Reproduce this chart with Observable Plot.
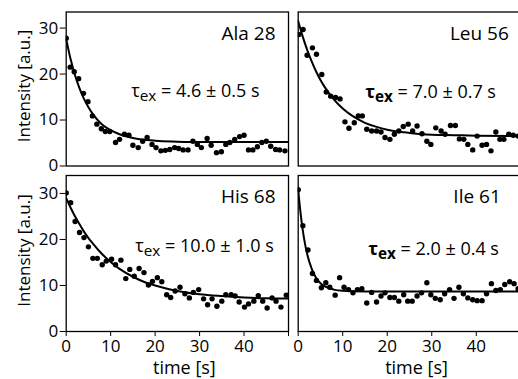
<!DOCTYPE html>
<html><head><meta charset="utf-8">
<script src="https://cdn.jsdelivr.net/npm/d3@7"></script>
<script src="https://cdn.jsdelivr.net/npm/@observablehq/plot@0.6"></script>
<style>
body{margin:0;background:#fff;overflow:hidden}
#chart{position:relative;width:518px;height:379px;font-family:"Open Sans",sans-serif}
#chart svg{position:absolute;left:0;top:0}
</style></head><body><div id="chart"></div>
<script>
// ---- data ----
const xTicks = [0, 10, 20, 30, 40, 50];
const yTicks = [0, 10, 20, 30];

const alaT = [0,0.9,1.8,2.8,3.9,4.9,5.9,6.9,7.9,8.8,9.8,11.1,12,13.1,14.1,15,16.2,17.2,18.2,19.3,20.2,21.3,22.3,23.3,24.4,25.3,26.3,27.4,28.5,29.5,30.4,31.7,32.6,33.8,34.9,35.9,36.8,37.9,39,40,41,42,43,44,45,46,47.1,48,49.2];
const alaI = [27.8,21.5,20.5,19,15.8,14,10.9,9.1,8.1,7.5,7.5,5.1,5.8,6.9,6.7,4.5,4.0,5.4,6.2,4.7,4.0,3.3,3.4,3.6,4.0,3.8,3.5,3.5,5.4,4.7,4.0,6.0,4.5,2.9,3.1,4.7,5.1,5.8,6.4,6.7,3.5,3.5,4.2,5.1,5.4,4.3,3.6,3.5,3.3];
const alaFitT = [0,1,2,3,4,5,6,8,10,12,15,20,25,30,40,50];
const alaFitI = [27.6,23.2,19.7,16.9,14.6,12.8,11.3,9.1,7.8,6.9,6.1,5.5,5.3,5.2,5.2,5.2];

const leuT = [0.15,1.1,2,3.2,4.1,5.3,6.3,7.3,8.4,9.4,10.5,11.4,12.6,13.5,14.4,15.4,16.5,17.6,18.6,19.5,20.6,21.6,22.6,23.6,24.7,25.7,26.7,27.8,28.9,29.8,30.9,32.1,33,34.2,35.3,36.2,37.2,38.1,39.2,40.2,41.3,42.3,43.3,44.4,45.3,46.2,47.3,48.3,49.4];
const leuI = [28.6,29.7,24.1,25.7,24.3,19.9,16.1,15.2,14.9,14.6,9.6,8.2,9.4,10.9,10.9,8.0,7.6,7.6,7.4,6.2,5.8,6.9,7.6,8.6,9.1,7.6,8.7,7.0,5.4,4.7,8.3,7.6,6.9,8.8,8.8,5.9,5.8,4.7,3.5,6.5,4.5,4.7,3.3,7.4,5.8,5.8,6.9,6.7,6.5];
const leuFitT = [0,1,2,3,4,5,6,8,10,12,15,18,20,25,30,35,40,50];
const leuFitI = [31.5,28.2,25.3,22.8,20.6,18.7,17.1,14.5,12.5,11.0,9.4,8.4,7.9,7.2,6.8,6.7,6.6,6.5];

const hisT = [0,1,2,3,4,5,6,7,8.1,9,10.2,11.1,12.3,13.4,14.3,15.3,16.4,17.5,18.5,19.4,20.5,21.5,22.6,23.5,24.5,25.6,26.7,27.7,28.6,29.8,30.9,31.8,32.8,33.9,35,35.9,37.1,38,38.9,40.1,41,42.2,43.2,44.2,45.2,46.3,47.2,48.3,49.5];
const hisI = [30.1,28,23.9,21.5,20.4,18.4,15.9,15.9,14.5,15.3,15.7,14.5,15.5,11.5,13.5,12,13.7,12.8,10.1,10.9,11.7,10.8,8.0,7.4,8.8,9.6,8.2,7.3,8.5,9.1,7.1,5.8,7.1,5.5,6.6,8.0,8.0,7.7,6.4,5.3,6.0,6.6,7.8,6.6,5.1,7.3,6.6,5.3,7.9];
const hisFitT = [0,1,2,3,4,5,6,8,10,12,15,18,20,25,30,35,40,45,50];
const hisFitI = [29,26.9,25,23.3,21.7,20.3,19.1,16.9,15.1,13.6,11.9,10.6,10.0,8.8,8.1,7.7,7.4,7.2,7.15];

const ileT = [0,1.05,2.2,3.2,4.1,5.2,6.2,7.1,8.3,9.3,10.3,11.3,12.3,13.3,14.3,15.4,16.5,17.6,18.6,19.5,20.6,21.6,22.6,23.7,24.6,25.6,26.7,27.7,28.9,29.8,30.8,31.9,32.9,34,35,36.1,37.1,38.1,39.2,40.2,41.3,42.3,43.4,44.4,45.4,46.4,47.5,48.5,49.4];
const ileI = [30.8,23,17.7,12.6,11.1,9.5,10.6,9.6,7.9,11.7,9.6,9.1,8.4,9.1,9.3,6.2,8.5,6.4,7.7,8.4,7.4,7.4,6.6,8.0,6.6,6.6,7.7,8.4,10.6,8.0,7.2,6.9,8.2,9.1,7.2,9.6,8.2,7.3,6.9,6.7,6.7,8.2,10.4,8.9,9.1,10.2,10.8,10.4,9.3];
const ileFitT = [0,0.5,1,1.5,2,3,4,5,6,8,10,15,20,30,40,50];
const ileFitI = [30.8,26,22.2,19.2,16.9,13.7,11.7,10.5,9.8,9.1,8.85,8.7,8.7,8.7,8.7,8.7];

const names = ["Ala 28", "Leu 56", "His 68", "Ile 61"];
const tauValues = ["4.6 ± 0.5 s", "7.0 ± 0.7 s", "10.0 ± 1.0 s", "2.0 ± 0.4 s"];
const yLabel = "Intensity [a.u.]";
const xLabel = "time [s]";

// ---- layout / style per panel ----
const panels = [
  {t: alaT, v: alaI, ft: alaFitT, fv: alaFitI, name: names[0], tau: tauValues[0], row: 0, col: 0, nameDx: -13, tauDx: 65, tauDy: 72.5, bold: false},
  {t: leuT, v: leuI, ft: leuFitT, fv: leuFitI, name: names[1], tau: tauValues[1], row: 0, col: 1, nameDx: -12, tauDx: 67, tauDy: 73.5, bold: true},
  {t: hisT, v: hisI, ft: hisFitT, fv: hisFitI, name: names[2], tau: tauValues[2], row: 1, col: 0, nameDx: -13, tauDx: 69, tauDy: 64, bold: false},
  {t: ileT, v: ileI, ft: ileFitT, fv: ileFitI, name: names[3], tau: tauValues[3], row: 1, col: 1, nameDx: -20, tauDx: 70, tauDy: 66.5, bold: true}
];

const W = 518, H = 379;
const chart = document.getElementById("chart");

for (const p of panels) {
  const pts = p.t.map((t, i) => ({t, v: p.v[i]}));
  const fit = p.ft.map((t, i) => ({t, v: p.fv[i]}));
  const left = p.col === 0, bottom = p.row === 1;
  const marks = [
    Plot.frame({stroke: "black", strokeWidth: 1.3}),
    Plot.line(fit, {x: "t", y: "v", stroke: "black", strokeWidth: 2, curve: "monotone-x", clip: true}),
    Plot.dot(pts, {x: "t", y: "v", r: 2.7, fill: "black", stroke: "none", clip: true}),
    Plot.text([p.name], {frameAnchor: "top-right", textAnchor: "end", lineAnchor: "top", dx: p.nameDx, dy: 14, fontSize: 19, fill: "black"}),
    Plot.text([p.tau], {frameAnchor: "top-left", textAnchor: "start", lineAnchor: "top", dx: p.tauDx, dy: p.tauDy, fontSize: 18, fill: "black", className: "tau" + (p.bold ? " taubold" : "")})
  ];
  if (left) marks.push(Plot.text([yLabel], {frameAnchor: "left", textAnchor: "middle", lineAnchor: "middle", rotate: -90, dx: -42, dy: -3, fontSize: 17, fill: "black"}));
  if (bottom) marks.push(Plot.text([xLabel], {frameAnchor: "bottom", textAnchor: "middle", lineAnchor: "top", dx: 7, dy: 30, fontSize: 18, fill: "black"}));
  const svg = Plot.plot({
    width: W, height: H,
    marginLeft: left ? 65.7 : 297.7,
    marginRight: left ? W - 288 : -2.3,
    marginTop: bottom ? 175 : 11.5,
    marginBottom: bottom ? H - 331 : H - 165.5,
    style: {background: "transparent", fontFamily: "'Open Sans', sans-serif", fontSize: "17px", color: "black"},
    x: {domain: [0, 50], axis: bottom ? "bottom" : null, ticks: xTicks, tickFormat: d => d === 50 ? "" : d, tickSize: 5, tickPadding: 3, label: null},
    y: {domain: [0, bottom ? 33.9 : 33.5], axis: left ? "left" : null, ticks: yTicks, tickSize: 6, tickPadding: 2, label: null},
    marks
  });
  chart.appendChild(svg);
}

// subscript "ex" in the tau annotations
const NS = "http://www.w3.org/2000/svg";
document.querySelectorAll("g.tau text").forEach(el => {
  const bold = el.closest("g.taubold") !== null;
  const rest = el.textContent;
  el.textContent = "";
  const t1 = document.createElementNS(NS, "tspan");
  t1.textContent = "τ";
  if (bold) t1.setAttribute("font-weight", "bold");
  const t2 = document.createElementNS(NS, "tspan");
  t2.textContent = "ex";
  t2.setAttribute("dy", "4");
  t2.setAttribute("font-size", "0.85em");
  if (bold) t2.setAttribute("font-weight", "bold");
  const t3 = document.createElementNS(NS, "tspan");
  t3.textContent = " = " + rest;
  t3.setAttribute("dy", "-4");
  el.append(t1, t2, t3);
});
</script>
</body></html>
